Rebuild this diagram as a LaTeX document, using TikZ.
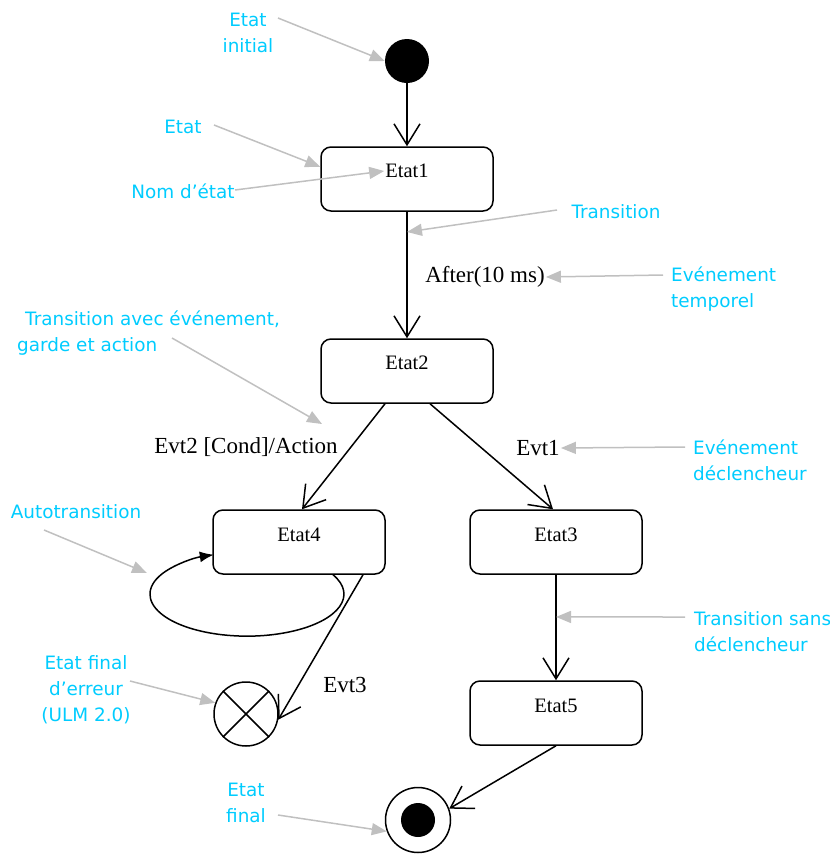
\documentclass[tikz,border=0pt]{standalone}
\usepackage{fontspec}
\setmainfont{Liberation Serif}
\newfontfamily\notefont{DejaVu Sans}
\usetikzlibrary{arrows.meta}
\definecolor{notecyan}{RGB}{0,204,255}
\definecolor{notegray}{RGB}{192,192,192}

\begin{document}
\begin{tikzpicture}[x=1pt,y=-1pt,
  statebox/.style={draw, line width=1.5pt, rounded corners=10pt,
    minimum width=172pt, minimum height=64pt, inner sep=0pt},
  statetext/.style={font=\fontsize{20.5}{24}\selectfont, inner sep=1pt},
  trans/.style={draw, line width=1.5pt,
    -{Straight Barb[length=21pt,width=26pt]}},
  evlabel/.style={font=\fontsize{23}{27}\selectfont, inner sep=1pt},
  note/.style={text=notecyan, font=\notefont\fontsize{18.4}{26}\selectfont, inner sep=0pt},
  pointer/.style={draw=notegray, line width=1.5pt,
    -{Triangle[length=15pt,width=12pt]}},
]
\useasboundingbox (0,0) rectangle (830,855);

% ---------- states ----------
\node[circle, fill=black, minimum size=44pt, inner sep=0pt] (init) at (407,61) {};
\node[statebox, label={[statetext, name=e1txt, yshift=8pt]center:Etat1}] (e1) at (407,179) {};
\node[statebox, label={[statetext, yshift=8pt]center:Etat2}] (e2) at (407,371) {};
\node[statebox, label={[statetext, yshift=7pt]center:Etat4}] (e4) at (299,542) {};
\node[statebox, label={[statetext, yshift=7pt]center:Etat3}] (e3) at (556,542) {};
\node[statebox, label={[statetext, yshift=7pt]center:Etat5}] (e5) at (556,713) {};

% error final state (circle with a cross)
\node[circle, draw, line width=1.5pt, minimum size=64pt, inner sep=0pt] (err) at (246,714) {};
\draw[line width=1.5pt] (err.45) -- (err.225) (err.135) -- (err.-45);

% final state (bull's eye)
\node[circle, draw, line width=1.5pt, minimum size=65pt, inner sep=0pt] (fin) at (418,820) {};
\node[circle, fill=black, minimum size=34pt, inner sep=0pt] (finin) at (fin) {};

% ---------- transitions ----------
\draw[trans] (init) -- (e1);
\draw[trans] (e1) -- coordinate[pos=0.16] (t12) (e2);
\draw[trans] ([xshift=-22pt]e2.south) -- ([xshift=3pt]e4.north);
\draw[trans] ([xshift=23pt]e2.south) -- ([xshift=-3pt]e3.north);
\draw[trans] (e3) -- coordinate[pos=0.40] (t35) (e5);
\draw[trans] ([xshift=64pt]e4.south) -- (err.-10);
\draw[trans] (e5.south) -- (fin.20);

% self transition on Etat4
\draw[line width=1.5pt, -{Latex[length=14pt,width=11pt]}]
  ([xshift=34pt]e4.south) arc[start angle=-27.5, end angle=250, x radius=97, y radius=42];

% ---------- transition labels ----------
\node[evlabel] (lafter) at (485,277) {After(10 ms)};
\node[evlabel] (levt2) at (246,447) {Evt2 [Cond]/Action};
\node[evlabel] (levt1) at (538,448) {Evt1};
\node[evlabel] (levt3) at (345,685) {Evt3};

% ---------- notes ----------
\node[note, align=center] (ninit) at (248,33) {Etat\\initial};
\node[note] (nstate) at (183,127) {Etat};
\node[note] (nname) at (183,191) {Nom d’état};
\node[note] (ntrans) at (616,212) {Transition};
\node[note, align=left, anchor=west] (ntemp) at (671,289) {Evénement\\temporel};
\node[note, align=left, anchor=west] (nguard) at (17,333) {\hspace*{8pt}Transition avec événement,\\garde et action};
\node[note, align=left, anchor=west] (ntrig) at (693,460) {Evénement\\déclencheur};
\node[note] (nauto) at (76,512) {Autotransition};
\node[note, align=center] (nerr) at (86,690) {Etat final\\d’erreur\\(ULM 2.0)};
\node[note, align=left, anchor=west] (nnotrig) at (694,632) {Transition sans\\déclencheur};
\node[note, align=center] (nfin) at (246,803) {Etat\\final};

% pointer ends that sit in free space
\coordinate (pinit) at (278,18);
\coordinate (pstate) at (214,125);
\coordinate (pname) at (235,190);
\coordinate (ptrans) at (557,210);
\coordinate (ptemp) at (663,275);
\coordinate (pguard) at (172,338);
\coordinate (guardtip) at (322,424);
\coordinate (ptrig) at (685,447);
\coordinate (pauto) at (44,530);
\coordinate (loopleft) at (147,573);
\coordinate (perr) at (130,681);
\coordinate (pnotrig) at (685,617);
\coordinate (pfin) at (278,815);

% ---------- pointers ----------
\draw[pointer] (pinit) -- (init.west);
\draw[pointer] (pstate) -- (e1.172);
\draw[pointer] (pname) -- (e1txt.west);
\draw[pointer] (ptrans) -- (t12);
\draw[pointer] (ptemp) -- (lafter.east);
\draw[pointer] (pguard) -- (guardtip);
\draw[pointer] (ptrig) -- (levt1.east);
\draw[pointer] (pauto) -- (loopleft);
\draw[pointer] (perr) -- (err.160);
\draw[pointer] (pnotrig) -- (t35);
\draw[pointer] (pfin) -- (fin.200);
\end{tikzpicture}
\end{document}
